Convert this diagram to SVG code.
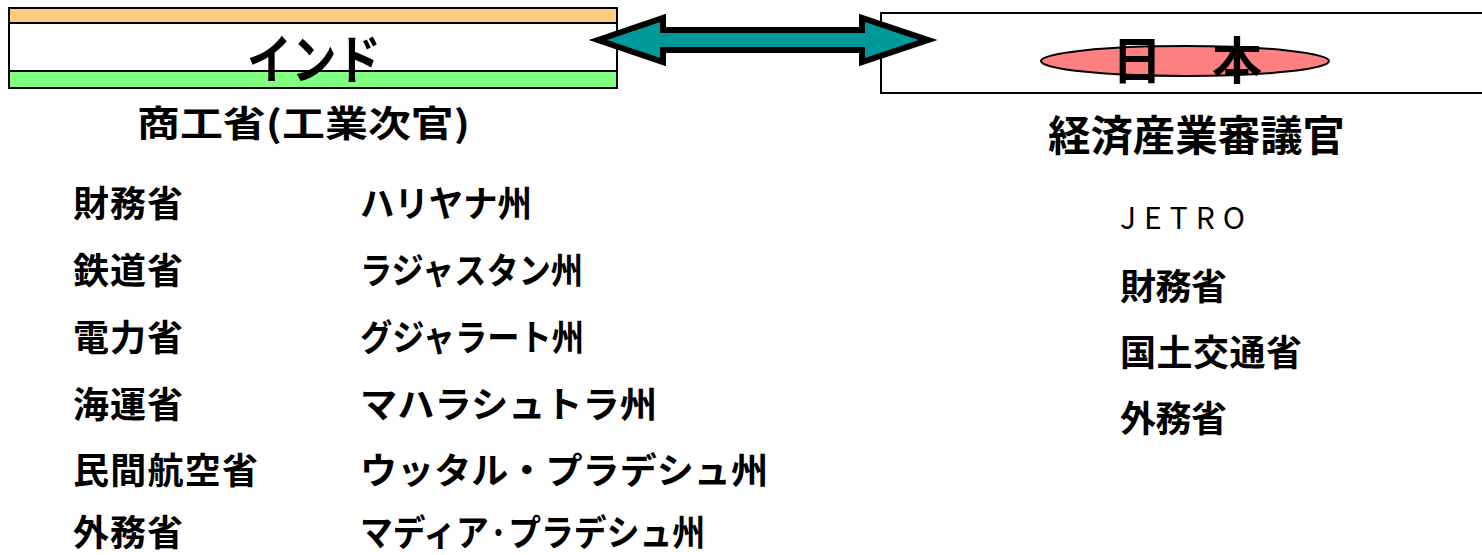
<svg xmlns="http://www.w3.org/2000/svg" width="1482" height="555" viewBox="0 0 1482 555">
<style>
.t{font-family:"Noto Sans CJK JP","Noto Sans",sans-serif;fill:#000}
.b{font-weight:bold}
.row{font-size:36px;font-weight:bold}
.box{stroke:#000;stroke-width:2}
</style>
<rect width="1482" height="555" fill="#fff"/>
<g id="india">
<rect x="9" y="8" width="608" height="80" fill="#fff" class="box"/>
<rect x="9" y="8" width="608" height="15" fill="#ffcc80" class="box"/>
<rect x="9" y="71" width="608" height="17" fill="#80ff80" class="box"/>
<text class="t b" x="247" y="79" font-size="53" textLength="134" lengthAdjust="spacingAndGlyphs">インド</text>
</g>
<g id="japan">
<rect x="881" y="13" width="605" height="80" fill="#fff" class="box"/>
<ellipse cx="1185" cy="61" rx="144" ry="15" fill="#ff8080" stroke="#000" stroke-width="2"/>
<text class="t b" x="1187" y="79" font-size="50" text-anchor="middle">日　本</text>
</g>
<g id="connectors">
<polygon points="598,40 663,18 663,30 862,30 862,18 928,40 862,62 862,50 663,50 663,62" fill="#009999" stroke="#000" stroke-width="6" stroke-linejoin="miter"/>
</g>
<g id="india-labels">
<text class="t b" x="137" y="137" font-size="36" textLength="333" lengthAdjust="spacingAndGlyphs">商工省(工業次官)</text>
<text class="t row" x="73" y="217" textLength="110">財務省</text>
<text class="t row" x="73" y="284" textLength="110">鉄道省</text>
<text class="t row" x="73" y="351" textLength="110">電力省</text>
<text class="t row" x="73" y="418" textLength="110">海運省</text>
<text class="t row" x="73" y="484" textLength="185">民間航空省</text>
<text class="t row" x="73" y="546" textLength="110">外務省</text>
<text class="t row" x="360" y="217" textLength="172" lengthAdjust="spacingAndGlyphs">ハリヤナ州</text>
<text class="t row" x="360" y="284" textLength="223" lengthAdjust="spacingAndGlyphs">ラジャスタン州</text>
<text class="t row" x="360" y="351" textLength="224" lengthAdjust="spacingAndGlyphs">グジャラート州</text>
<text class="t row" x="360" y="418" textLength="297" lengthAdjust="spacingAndGlyphs">マハラシュトラ州</text>
<text class="t row" x="360" y="484" textLength="408" lengthAdjust="spacingAndGlyphs">ウッタル・プラデシュ州</text>
<text class="t row" x="360" y="546" textLength="345" lengthAdjust="spacingAndGlyphs">マディア·プラデシュ州</text>
</g>
<g id="japan-labels">
<text class="t b" x="1048" y="151" font-size="42" textLength="297" lengthAdjust="spacingAndGlyphs">経済産業審議官</text>
<text class="t" x="1120" y="229" font-size="30" textLength="125">JETRO</text>
<text class="t row" x="1120" y="300" textLength="107">財務省</text>
<text class="t row" x="1120" y="366" textLength="182">国土交通省</text>
<text class="t row" x="1120" y="432" textLength="107">外務省</text>
</g>
</svg>
